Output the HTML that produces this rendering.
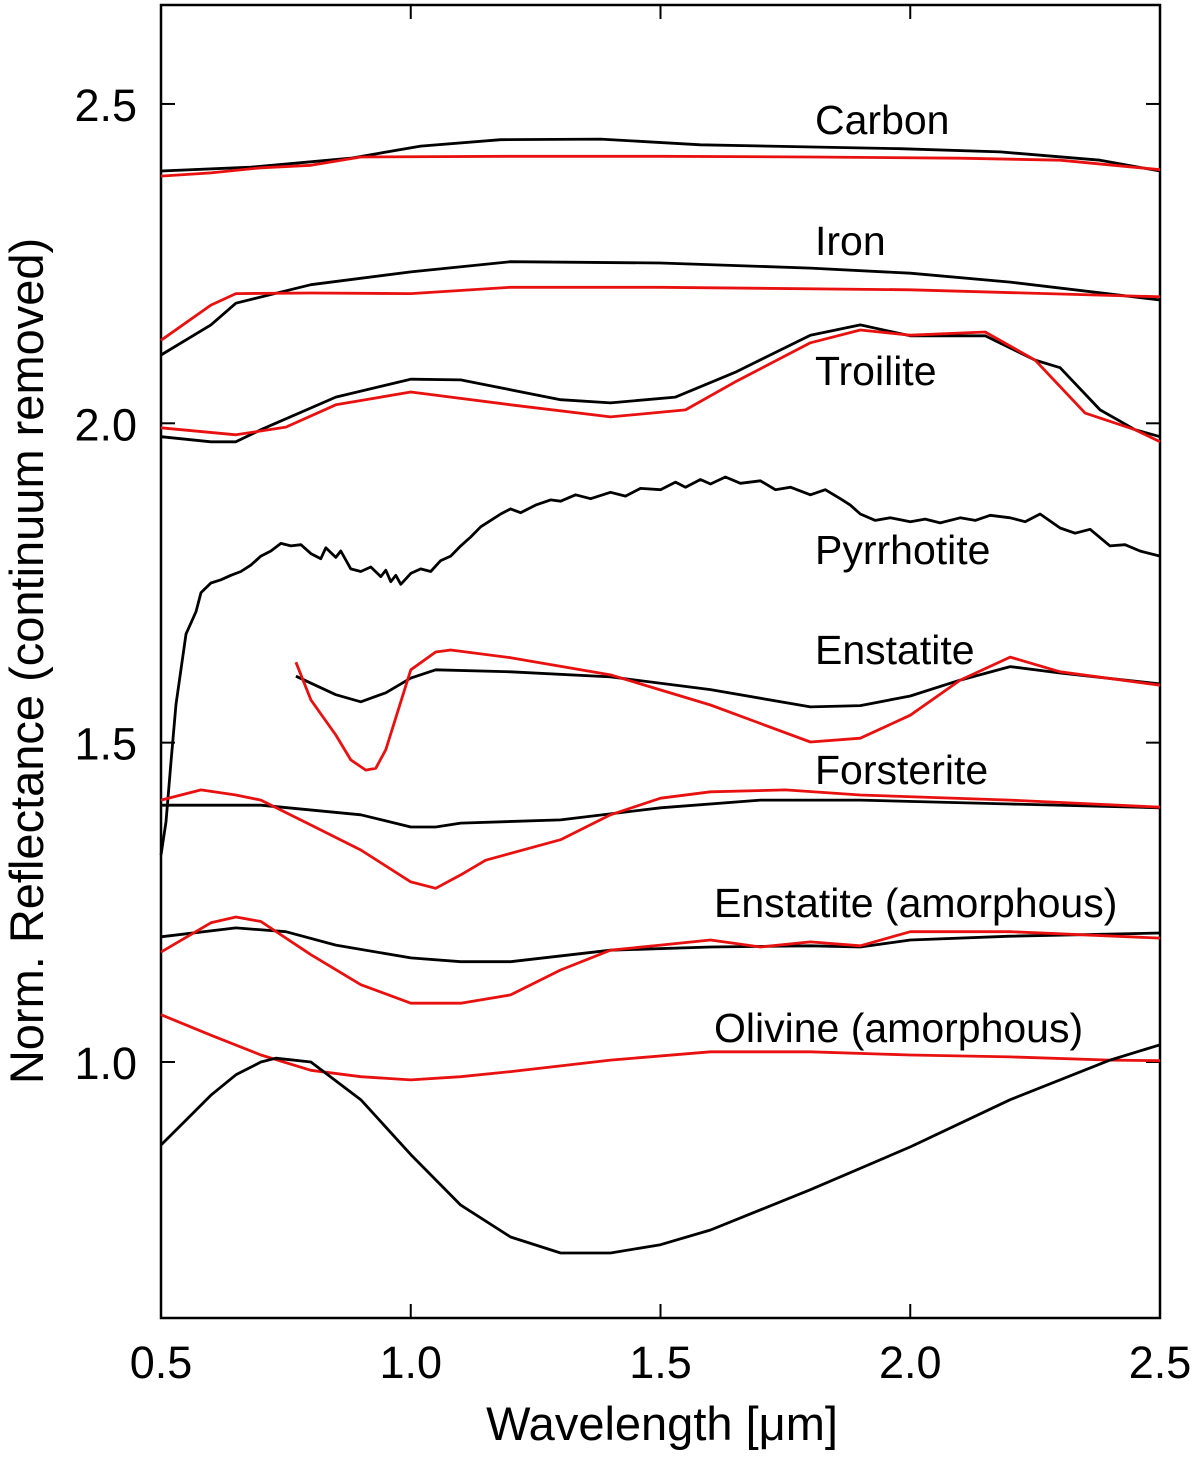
<!DOCTYPE html>
<html><head><meta charset="utf-8"><style>
html,body{margin:0;padding:0;background:#fff;}
svg{display:block;font-family:"Liberation Sans",sans-serif;}
</style></head><body>
<svg id="chart" width="1200" height="1459" viewBox="0 0 1200 1459" xmlns="http://www.w3.org/2000/svg">
<rect x="161" y="5" width="999" height="1313" fill="none" stroke="#000" stroke-width="2.5"/>
<g id="ticks"></g>
<g id="series"></g>
<text x="662" y="1440" font-size="47" text-anchor="middle">Wavelength [μm]</text>
<text transform="translate(43,661) rotate(-90)" font-size="47" text-anchor="middle">Norm. Reflectance (continuum removed)</text>
<g font-size="41">
<text x="815" y="134">Carbon</text>
<text x="815" y="255">Iron</text>
<text x="815" y="385">Troilite</text>
<text x="815" y="564">Pyrrhotite</text>
<text x="815" y="664">Enstatite</text>
<text x="815" y="784">Forsterite</text>
<text x="714" y="917">Enstatite (amorphous)</text>
<text x="714" y="1042">Olivine (amorphous)</text>
</g>
</svg>
<script>
const xTicks=[0.5,1.0,1.5,2.0,2.5];
const yTicks=[1.0,1.5,2.0,2.5];
const carbonBlackX=[0.5,0.68,0.88,1.02,1.18,1.38,1.58,1.98,2.18,2.38,2.5];
const carbonBlackY=[2.395,2.401,2.415,2.434,2.444,2.445,2.436,2.430,2.425,2.412,2.395];
const carbonRedX=[0.5,0.6,0.7,0.8,0.9,1.2,1.5,1.8,2.1,2.3,2.5];
const carbonRedY=[2.387,2.392,2.400,2.404,2.417,2.418,2.418,2.417,2.415,2.412,2.397];
const ironBlackX=[0.5,0.6,0.65,0.8,1.0,1.2,1.5,1.8,2.0,2.2,2.5];
const ironBlackY=[2.107,2.154,2.188,2.217,2.237,2.253,2.251,2.243,2.235,2.221,2.193];
const ironRedX=[0.5,0.6,0.65,0.8,1.0,1.2,1.5,2.0,2.5];
const ironRedY=[2.130,2.185,2.203,2.204,2.203,2.213,2.213,2.209,2.198];
const troiliteBlackX=[0.5,0.6,0.65,0.7,0.85,1.0,1.1,1.3,1.4,1.53,1.65,1.8,1.9,2.0,2.15,2.25,2.3,2.38,2.45,2.5];
const troiliteBlackY=[1.979,1.971,1.971,1.990,2.041,2.069,2.068,2.037,2.032,2.041,2.080,2.138,2.154,2.137,2.137,2.099,2.087,2.021,1.990,1.979];
const troiliteRedX=[0.5,0.65,0.75,0.85,1.0,1.2,1.4,1.55,1.65,1.8,1.9,2.0,2.15,2.25,2.35,2.45,2.5];
const troiliteRedY=[1.993,1.982,1.994,2.029,2.049,2.029,2.010,2.021,2.065,2.126,2.146,2.138,2.143,2.099,2.016,1.990,1.971];
const pyrrhotiteX=[0.5,0.51,0.52,0.53,0.55,0.57,0.58,0.6,0.62,0.64,0.66,0.68,0.7,0.72,0.74,0.76,0.78,0.8,0.82,0.83,0.85,0.86,0.88,0.9,0.92,0.94,0.95,0.96,0.97,0.98,1.0,1.02,1.04,1.06,1.08,1.1,1.12,1.14,1.16,1.18,1.2,1.22,1.25,1.28,1.3,1.33,1.36,1.4,1.43,1.46,1.5,1.53,1.55,1.58,1.6,1.63,1.66,1.7,1.73,1.76,1.8,1.83,1.86,1.88,1.9,1.93,1.96,2.0,2.03,2.06,2.1,2.13,2.16,2.2,2.23,2.26,2.3,2.33,2.36,2.4,2.43,2.46,2.5];
const pyrrhotiteY=[1.324,1.376,1.47,1.56,1.67,1.705,1.735,1.750,1.755,1.762,1.768,1.778,1.792,1.800,1.812,1.808,1.810,1.796,1.788,1.805,1.790,1.800,1.772,1.768,1.775,1.760,1.770,1.752,1.762,1.748,1.765,1.772,1.768,1.785,1.792,1.808,1.822,1.838,1.848,1.858,1.866,1.860,1.872,1.880,1.878,1.888,1.882,1.892,1.886,1.898,1.896,1.908,1.900,1.912,1.905,1.916,1.906,1.910,1.896,1.900,1.888,1.896,1.882,1.872,1.858,1.848,1.852,1.846,1.850,1.844,1.852,1.848,1.856,1.852,1.846,1.858,1.836,1.828,1.834,1.808,1.810,1.800,1.792];
const enstatiteBlackX=[0.77,0.85,0.9,0.95,1.0,1.05,1.2,1.4,1.6,1.8,1.9,2.0,2.1,2.2,2.3,2.5];
const enstatiteBlackY=[1.604,1.575,1.564,1.578,1.601,1.614,1.611,1.603,1.583,1.556,1.558,1.573,1.598,1.619,1.609,1.592];
const enstatiteRedX=[0.77,0.8,0.85,0.88,0.91,0.93,0.95,1.0,1.05,1.08,1.2,1.4,1.6,1.8,1.9,2.0,2.1,2.2,2.3,2.5];
const enstatiteRedY=[1.626,1.567,1.512,1.473,1.457,1.460,1.489,1.614,1.642,1.645,1.633,1.606,1.559,1.501,1.507,1.543,1.598,1.634,1.611,1.590];
const forsteriteBlackX=[0.5,0.7,0.9,1.0,1.05,1.1,1.3,1.5,1.7,1.9,2.2,2.5];
const forsteriteBlackY=[1.402,1.402,1.387,1.368,1.368,1.374,1.379,1.398,1.410,1.410,1.404,1.398];
const forsteriteRedX=[0.5,0.58,0.65,0.7,0.8,0.9,1.0,1.05,1.1,1.15,1.3,1.4,1.5,1.6,1.75,1.9,2.2,2.5];
const forsteriteRedY=[1.410,1.426,1.418,1.410,1.371,1.332,1.282,1.272,1.293,1.316,1.348,1.387,1.413,1.423,1.426,1.418,1.410,1.399];
const ensAmBlackX=[0.5,0.65,0.75,0.85,1.0,1.1,1.2,1.4,1.6,1.8,1.9,2.0,2.2,2.5];
const ensAmBlackY=[1.196,1.210,1.204,1.183,1.163,1.157,1.157,1.175,1.180,1.182,1.180,1.191,1.197,1.202];
const ensAmRedX=[0.5,0.6,0.65,0.7,0.8,0.9,1.0,1.1,1.2,1.3,1.4,1.5,1.6,1.7,1.8,1.9,2.0,2.2,2.5];
const ensAmRedY=[1.172,1.218,1.227,1.220,1.168,1.121,1.092,1.092,1.105,1.144,1.175,1.183,1.191,1.180,1.188,1.182,1.204,1.204,1.194];
const olivineRedX=[0.5,0.6,0.7,0.8,0.9,1.0,1.1,1.2,1.4,1.6,1.8,2.0,2.2,2.4,2.5];
const olivineRedY=[1.074,1.042,1.011,0.987,0.977,0.972,0.977,0.985,1.003,1.016,1.016,1.011,1.008,1.003,1.002];
const olivineBlackX=[0.5,0.55,0.6,0.65,0.7,0.73,0.8,0.9,1.0,1.1,1.2,1.3,1.4,1.5,1.6,1.8,2.0,2.2,2.4,2.5];
const olivineBlackY=[0.870,0.909,0.948,0.980,1.0,1.006,1.0,0.941,0.855,0.776,0.726,0.701,0.701,0.714,0.737,0.800,0.867,0.941,1.003,1.027];

const NS='http://www.w3.org/2000/svg';
const L=161,R=1160,T=5,B=1318;
function sx(v){return L+(v-0.5)*(R-L)/2.0;}
function sy(v){return 1062-(v-1.0)*638.7;}
const tg=document.getElementById('ticks');
function mk(tag,attrs,parent){const e=document.createElementNS(NS,tag);for(const k in attrs)e.setAttribute(k,attrs[k]);parent.appendChild(e);return e;}
xTicks.forEach(t=>{
  const x=sx(t);
  const a=mk('line',{x1:x,x2:x,y1:B,y2:B-14,stroke:'#000','stroke-width':2},tg);
  
  
  const b=mk('line',{x1:x,x2:x,y1:T,y2:T+14,stroke:'#000','stroke-width':2},tg);
  
  
  const tx=mk('text',{x:x,y:1378,'font-size':45,'text-anchor':'middle'},tg);
  tx.textContent=t.toFixed(1);
  
  
});
yTicks.forEach(t=>{
  const y=sy(t);
  const a=mk('line',{x1:L,x2:L+14,y1:y,y2:y,stroke:'#000','stroke-width':2},tg);
  
  
  const b=mk('line',{x1:R,x2:R-14,y1:y,y2:y,stroke:'#000','stroke-width':2},tg);
  
  
  const tx=mk('text',{x:137,y:y+17,'font-size':45,'text-anchor':'end'},tg);
  tx.textContent=t.toFixed(1);
  
  
});
const sg=document.getElementById('series');
function line(xs,ys,color,name){
  const d=xs.map((x,i)=>(i?'L':'M')+sx(x).toFixed(1)+','+sy(ys[i]).toFixed(1)).join(' ');
  const p=mk('path',{d:d,fill:'none',stroke:color,'stroke-width':2.8,'stroke-linejoin':'round'},sg);
  
  
}
const K='#000',Rd='#e8110f';
line(carbonBlackX,carbonBlackY,K,'carbon-black-line');
line(carbonRedX,carbonRedY,Rd,'carbon-red-line');
line(ironBlackX,ironBlackY,K,'iron-black-line');
line(ironRedX,ironRedY,Rd,'iron-red-line');
line(troiliteBlackX,troiliteBlackY,K,'troilite-black-line');
line(troiliteRedX,troiliteRedY,Rd,'troilite-red-line');
line(pyrrhotiteX,pyrrhotiteY,K,'pyrrhotite-line');
line(enstatiteBlackX,enstatiteBlackY,K,'enstatite-black-line');
line(enstatiteRedX,enstatiteRedY,Rd,'enstatite-red-line');
line(forsteriteBlackX,forsteriteBlackY,K,'forsterite-black-line');
line(forsteriteRedX,forsteriteRedY,Rd,'forsterite-red-line');
line(ensAmBlackX,ensAmBlackY,K,'enstatite-amorphous-black-line');
line(ensAmRedX,ensAmRedY,Rd,'enstatite-amorphous-red-line');
line(olivineRedX,olivineRedY,Rd,'olivine-amorphous-red-line');
line(olivineBlackX,olivineBlackY,K,'olivine-amorphous-black-line');
</script>
</body></html>
